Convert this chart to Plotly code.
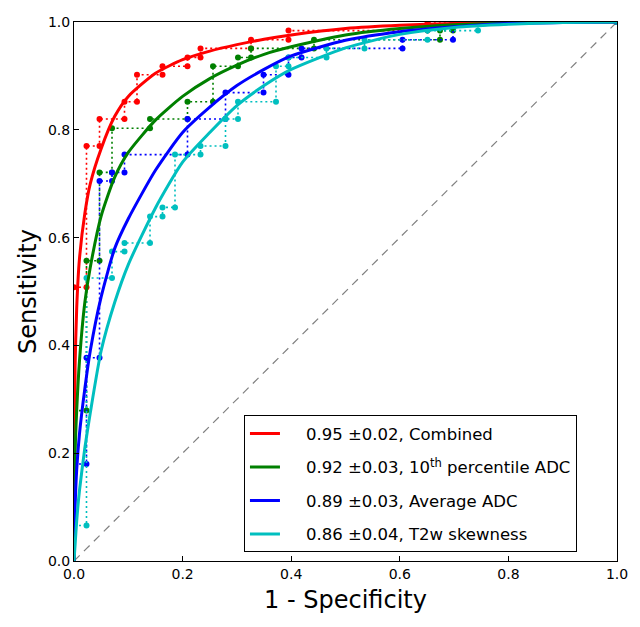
import plotly.graph_objects as go

# ---- data ----
NB = "\u00a0"
series_names = [
    "0.95 \u00b10.02, Combined",
    "0.92 \u00b10.03, 10<sup>th</sup> percentile ADC",
    "0.89 \u00b10.03, Average ADC",
    "0.86 \u00b10.04, T2w skewness",
]

# fitted (smooth) ROC curves
fit_fpr = [0, 0.002, 0.005, 0.01, 0.02, 0.03, 0.05, 0.075, 0.1, 0.15, 0.2, 0.25,
           0.3, 0.35, 0.4, 0.5, 0.6, 0.7, 0.8, 0.9, 1.0]
fit_combined = [0, 0.36, 0.47, 0.56, 0.645, 0.70, 0.765, 0.825, 0.862, 0.905, 0.93,
                0.946, 0.958, 0.968, 0.976, 0.988, 0.994, 0.997, 0.999, 1.0, 1.0]
fit_p10adc = [0, 0.20, 0.28, 0.37, 0.48, 0.545, 0.64, 0.712, 0.758, 0.818, 0.862,
              0.895, 0.92, 0.94, 0.954, 0.976, 0.988, 0.995, 0.998, 1.0, 1.0]
fit_avgadc = [0, 0.10, 0.17, 0.235, 0.32, 0.39, 0.49, 0.58, 0.635, 0.725, 0.795,
              0.842, 0.882, 0.912, 0.937, 0.966, 0.982, 0.991, 0.997, 0.999, 1.0]
fit_t2wskew = [0, 0.03, 0.075, 0.13, 0.21, 0.275, 0.39, 0.48, 0.55, 0.655, 0.74,
               0.795, 0.845, 0.882, 0.912, 0.952, 0.977, 0.99, 0.996, 0.999, 1.0]

# empirical (step) ROC points
emp_combined_fpr = [0, 0.023, 0.023, 0.047, 0.047, 0.093, 0.093, 0.116, 0.116, 0.163, 0.163,
                    0.209, 0.209, 0.233, 0.233, 0.326, 0.326, 0.395, 0.395, 0.651, 0.651, 1.0]
emp_combined_tpr = [0.508, 0.508, 0.770, 0.770, 0.820, 0.820, 0.852, 0.852, 0.902, 0.902, 0.918,
                    0.918, 0.934, 0.934, 0.951, 0.951, 0.967, 0.967, 0.984, 0.984, 1.0, 1.0]

emp_p10adc_fpr = [0, 0.023, 0.023, 0.047, 0.047, 0.070, 0.070, 0.140, 0.140, 0.209, 0.209, 0.256,
                  0.256, 0.302, 0.302, 0.326, 0.326, 0.442, 0.442, 0.674, 0.674, 0.698, 0.698, 1.0]
emp_p10adc_tpr = [0.279, 0.279, 0.557, 0.557, 0.721, 0.721, 0.803, 0.803, 0.820, 0.820, 0.852, 0.852,
                  0.918, 0.918, 0.934, 0.934, 0.951, 0.951, 0.967, 0.967, 0.984, 0.984, 1.0, 1.0]

emp_avgadc_fpr = [0, 0.023, 0.023, 0.047, 0.047, 0.070, 0.070, 0.093, 0.093, 0.209, 0.209, 0.279,
                  0.279, 0.349, 0.349, 0.395, 0.395, 0.419, 0.419, 0.605, 0.605, 0.698, 0.698, 1.0]
emp_avgadc_tpr = [0.180, 0.180, 0.377, 0.377, 0.705, 0.705, 0.721, 0.721, 0.754, 0.754, 0.820, 0.820,
                  0.869, 0.869, 0.902, 0.902, 0.934, 0.934, 0.951, 0.951, 0.967, 0.967, 1.0, 1.0]

emp_t2wskew_fpr = [0, 0.023, 0.023, 0.070, 0.070, 0.093, 0.093, 0.140, 0.140, 0.163, 0.163, 0.186,
                   0.186, 0.233, 0.233, 0.279, 0.279, 0.302, 0.302, 0.372, 0.372, 0.395, 0.395,
                   0.465, 0.465, 0.535, 0.535, 0.651, 0.651, 0.744, 0.744, 1.0]
emp_t2wskew_tpr = [0.066, 0.066, 0.525, 0.525, 0.574, 0.574, 0.590, 0.590, 0.639, 0.639, 0.656, 0.656,
                   0.754, 0.754, 0.770, 0.770, 0.820, 0.820, 0.852, 0.852, 0.918, 0.918, 0.934,
                   0.934, 0.951, 0.951, 0.967, 0.967, 0.984, 0.984, 1.0, 1.0]

chance = [0, 1]

colors = ["#ff0000", "#008000", "#0000ff", "#00bfbf"]
fits = [fit_combined, fit_p10adc, fit_avgadc, fit_t2wskew]
emps = [(emp_combined_fpr, emp_combined_tpr), (emp_p10adc_fpr, emp_p10adc_tpr),
        (emp_avgadc_fpr, emp_avgadc_tpr), (emp_t2wskew_fpr, emp_t2wskew_tpr)]

FONT = "DejaVu Sans"
fig = go.Figure()

fig.add_trace(go.Scatter(x=chance, y=chance, mode="lines",
                         line=dict(color="#808080", width=1.2, dash="8px,6px"),
                         showlegend=False, hoverinfo="skip"))

for (ex, ey), c, i in zip(emps, colors, range(4)):
    fig.add_trace(go.Scatter(x=ex, y=ey, mode="lines+markers",
                             line=dict(color=c, width=1.6, dash="2px,3px"),
                             marker=dict(color=c, size=6),
                             showlegend=False, legendgroup=f"g{i}"))

for fy, c, name, i in zip(fits, colors, series_names, range(4)):
    fig.add_trace(go.Scatter(x=fit_fpr, y=fy, mode="lines",
                             name=NB * 4 + name,
                             line=dict(color=c, width=3, shape="spline", smoothing=0.6),
                             legendgroup=f"g{i}"))

axis_common = dict(range=[0, 1], dtick=0.2, tickformat=".1f", showgrid=False, zeroline=False,
                   showline=True, linecolor="black", linewidth=1, mirror=True,
                   ticks="inside", ticklen=5, tickcolor="black", automargin=False,
                   tickfont=dict(family=FONT, size=14, color="black"))

# the page body adds an 8px offset, so margins are compensated
fig.update_layout(
    width=640, height=627,
    margin=dict(l=66, r=31, t=14, b=74),
    paper_bgcolor="white", plot_bgcolor="white",
    xaxis=dict(**axis_common, title=dict(text="1 - Specificity", standoff=10,
                                         font=dict(family=FONT, size=24, color="black"))),
    yaxis=dict(**axis_common, title=dict(text="Sensitivity", standoff=4,
                                         font=dict(family=FONT, size=24, color="black"))),
    legend=dict(x=0.313, y=0.016, xanchor="left", yanchor="bottom",
                bgcolor="white", bordercolor="black", borderwidth=1,
                font=dict(family=FONT, size=16.5, color="black"),
                tracegroupgap=9, traceorder="grouped", itemwidth=30),
)

fig.write_html("out.html")
